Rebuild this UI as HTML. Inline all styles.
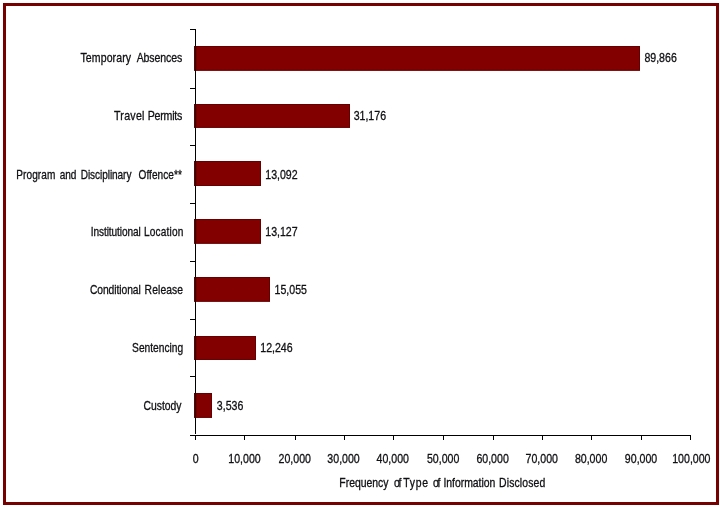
<!DOCTYPE html>
<html lang="en"><head><meta charset="utf-8"><title>Frequency of Type of Information Disclosed</title>
<style>
html,body{margin:0;padding:0;background:#fff;}
body{width:720px;height:510px;overflow:hidden;}
svg{display:block;}
text{font-family:"Liberation Sans",sans-serif;font-size:12.4px;fill:#101014;stroke:#101014;stroke-width:0.3px;}
</style></head><body>
<svg width="720" height="510" viewBox="0 0 720 510">
<rect x="0" y="0" width="720" height="510" fill="#fff"/>
<rect x="4.5" y="4.5" width="713" height="499" fill="#fff" stroke="#760000" stroke-width="3"/>

<rect x="194" y="46" width="446" height="24.7" fill="#820000"/>
<rect x="194.5" y="46.5" width="445" height="23.7" fill="none" stroke="#660000" stroke-width="1"/>
<rect x="196" y="47" width="1" height="22.7" fill="#700000"/>
<rect x="194" y="104" width="156" height="23.8" fill="#820000"/>
<rect x="194.5" y="104.5" width="155" height="22.8" fill="none" stroke="#660000" stroke-width="1"/>
<rect x="196" y="105" width="1" height="21.8" fill="#700000"/>
<rect x="194" y="161" width="67" height="25.0" fill="#820000"/>
<rect x="194.5" y="161.5" width="66" height="24.0" fill="none" stroke="#660000" stroke-width="1"/>
<rect x="196" y="162" width="1" height="23.0" fill="#700000"/>
<rect x="194" y="219" width="67" height="24.7" fill="#820000"/>
<rect x="194.5" y="219.5" width="66" height="23.7" fill="none" stroke="#660000" stroke-width="1"/>
<rect x="196" y="220" width="1" height="22.7" fill="#700000"/>
<rect x="194" y="277" width="76" height="24.7" fill="#820000"/>
<rect x="194.5" y="277.5" width="75" height="23.7" fill="none" stroke="#660000" stroke-width="1"/>
<rect x="196" y="278" width="1" height="22.7" fill="#700000"/>
<rect x="194" y="336" width="62" height="23.9" fill="#820000"/>
<rect x="194.5" y="336.5" width="61" height="22.9" fill="none" stroke="#660000" stroke-width="1"/>
<rect x="196" y="337" width="1" height="21.9" fill="#700000"/>
<rect x="194" y="393" width="18" height="24.8" fill="#820000"/>
<rect x="194.5" y="393.5" width="17" height="23.8" fill="none" stroke="#660000" stroke-width="1"/>
<rect x="196" y="394" width="1" height="22.8" fill="#700000"/>
<g fill="#000" shape-rendering="crispEdges">
<rect x="195" y="29" width="1" height="405"/>
<rect x="190" y="435" width="501" height="1"/>
<rect x="190" y="29" width="5" height="1"/>
<rect x="190" y="88" width="5" height="1"/>
<rect x="190" y="145" width="5" height="1"/>
<rect x="190" y="203" width="5" height="1"/>
<rect x="190" y="261" width="5" height="1"/>
<rect x="190" y="319" width="5" height="1"/>
<rect x="190" y="376" width="5" height="1"/>
<rect x="195" y="435" width="1" height="5"/>
<rect x="244" y="435" width="1" height="5"/>
<rect x="295" y="435" width="1" height="5"/>
<rect x="344" y="435" width="1" height="5"/>
<rect x="393" y="435" width="1" height="5"/>
<rect x="443" y="435" width="1" height="5"/>
<rect x="493" y="435" width="1" height="5"/>
<rect x="542" y="435" width="1" height="5"/>
<rect x="591" y="435" width="1" height="5"/>
<rect x="641" y="435" width="1" height="5"/>
<rect x="690" y="435" width="1" height="5"/>
</g>
<rect x="195" y="46" width="1" height="24.7" fill="#2a0000"/>
<rect x="195" y="104" width="1" height="23.8" fill="#2a0000"/>
<rect x="195" y="161" width="1" height="25.0" fill="#2a0000"/>
<rect x="195" y="219" width="1" height="24.7" fill="#2a0000"/>
<rect x="195" y="277" width="1" height="24.7" fill="#2a0000"/>
<rect x="195" y="336" width="1" height="23.9" fill="#2a0000"/>
<rect x="195" y="393" width="1" height="24.8" fill="#2a0000"/>
<text transform="translate(0 61.60) scale(0.8496 1)"><tspan x="94.76" letter-spacing="0.115">Temporary</tspan> <tspan x="160.92" letter-spacing="-0.132">Absences</tspan></text>
<text transform="translate(0 61.60) scale(0.8555 1)"><tspan x="753.24">89,866</tspan></text>
<text transform="translate(0 119.80) scale(0.8575 1)"><tspan x="132.96" letter-spacing="0.302">Travel</tspan> <tspan x="172.21" letter-spacing="-0.252">Permits</tspan></text>
<text transform="translate(0 119.80) scale(0.8555 1)"><tspan x="413.39">31,176</tspan></text>
<text transform="translate(0 178.80) scale(0.8117 1)"><tspan x="20.10" letter-spacing="0.099">Program</tspan> <tspan x="73.70" letter-spacing="-0.140">and</tspan> <tspan x="99.44" letter-spacing="-0.079">Disciplinary</tspan> <tspan x="170.71" letter-spacing="0.069">Offence**</tspan></text>
<text transform="translate(0 178.80) scale(0.8555 1)"><tspan x="310.06">13,092</tspan></text>
<text transform="translate(0 235.80) scale(0.8147 1)"><tspan x="111.47" letter-spacing="-0.113">Institutional</tspan> <tspan x="176.77" letter-spacing="0.193">Location</tspan></text>
<text transform="translate(0 235.80) scale(0.8555 1)"><tspan x="310.06">13,127</tspan></text>
<text transform="translate(0 293.70) scale(0.8313 1)"><tspan x="108.18" letter-spacing="-0.082">Conditional</tspan> <tspan x="173.94" letter-spacing="0.137">Release</tspan></text>
<text transform="translate(0 293.70) scale(0.8555 1)"><tspan x="320.93">15,055</tspan></text>
<text transform="translate(0 351.60) scale(0.8238 1)"><tspan x="160.35">Sentencing</tspan></text>
<text transform="translate(0 351.60) scale(0.8555 1)"><tspan x="304.21">12,246</tspan></text>
<text transform="translate(0 409.70) scale(0.8377 1)"><tspan x="171.28">Custody</tspan></text>
<text transform="translate(0 409.70) scale(0.8555 1)"><tspan x="253.48">3,536</tspan></text>
<text transform="translate(0 463.00) scale(0.8555 1)"><tspan x="225.36">0</tspan></text>
<text transform="translate(0 463.00) scale(0.8555 1)"><tspan x="266.90">10,000</tspan></text>
<text transform="translate(0 463.00) scale(0.8555 1)"><tspan x="325.62">20,000</tspan></text>
<text transform="translate(0 463.00) scale(0.8555 1)"><tspan x="382.68">30,000</tspan></text>
<text transform="translate(0 463.00) scale(0.8555 1)"><tspan x="440.16">40,000</tspan></text>
<text transform="translate(0 463.00) scale(0.8555 1)"><tspan x="499.09">50,000</tspan></text>
<text transform="translate(0 463.00) scale(0.8555 1)"><tspan x="556.88">60,000</tspan></text>
<text transform="translate(0 463.00) scale(0.8555 1)"><tspan x="614.32">70,000</tspan></text>
<text transform="translate(0 463.00) scale(0.8555 1)"><tspan x="672.01">80,000</tspan></text>
<text transform="translate(0 463.00) scale(0.8555 1)"><tspan x="730.42">90,000</tspan></text>
<text transform="translate(0 463.00) scale(0.8555 1)"><tspan x="785.78">100,000</tspan></text>
<text transform="translate(0 486.60) scale(0.8430 1)"><tspan x="402.58" letter-spacing="-0.045">Frequency</tspan> <tspan x="467.37" letter-spacing="-1.524">of</tspan> <tspan x="478.41" letter-spacing="0.878">Type</tspan> <tspan x="513.75" letter-spacing="-1.524">of</tspan> <tspan x="526.06" letter-spacing="-0.041">Information</tspan> <tspan x="592.02" letter-spacing="0.148">Disclosed</tspan></text>
</svg></body></html>
